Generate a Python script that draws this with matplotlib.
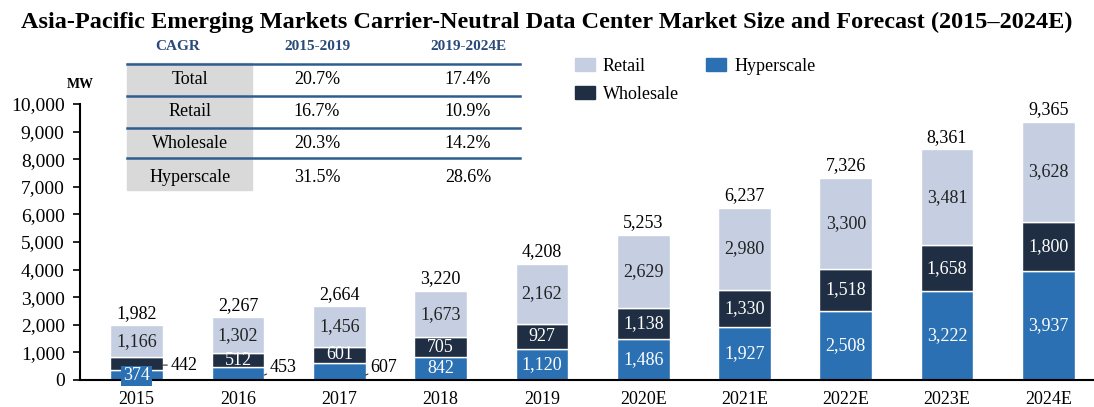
import numpy as np
import matplotlib.pyplot as plt
from matplotlib.lines import Line2D
from matplotlib.patches import Rectangle

plt.rcParams['font.family'] = ['Liberation Serif', 'DejaVu Serif']

years = ['2015', '2016', '2017', '2018', '2019', '2020E', '2021E', '2022E', '2023E', '2024E']
hyperscale = [374, 453, 607, 842, 1120, 1486, 1927, 2508, 3222, 3937]
wholesale = [442, 512, 601, 705, 927, 1138, 1330, 1518, 1658, 1800]
retail = [1166, 1302, 1456, 1673, 2162, 2629, 2980, 3300, 3481, 3628]
totals = [1982, 2267, 2664, 3220, 4208, 5253, 6237, 7326, 8361, 9365]

cagr_rows = ['Total', 'Retail', 'Wholesale', 'Hyperscale']
cagr_1519 = ['20.7%', '16.7%', '20.3%', '31.5%']
cagr_1924 = ['17.4%', '10.9%', '14.2%', '28.6%']

c_retail = '#c5cfe1'
c_whole = '#1f2e42'
c_hyper = '#2b70b2'
c_line = '#2f5d8f'

W, H = 1094, 407
fig = plt.figure(figsize=(W / 100, H / 100), dpi=100)
ax = fig.add_axes([80 / W, (H - 380) / H, 1014 / W, 276 / H])


def fx(px):
    return px / W


def fy(py):
    return (H - py) / H


x = np.arange(len(years))
bw = 0.52
ax.bar(x, hyperscale, bw, color=c_hyper, edgecolor='white', linewidth=1)
ax.bar(x, wholesale, bw, bottom=hyperscale, color=c_whole, edgecolor='white', linewidth=1)
bot2 = np.array(hyperscale) + np.array(wholesale)
ax.bar(x, retail, bw, bottom=bot2, color=c_retail, edgecolor='white', linewidth=1)

fs = 13
for i in range(len(years)):
    ax.text(x[i], totals[i] + 130, f'{totals[i]:,}', ha='center', va='bottom', fontsize=fs)
    ax.text(x[i], bot2[i] + retail[i] / 2, f'{retail[i]:,}', ha='center', va='center',
            fontsize=fs, color='#222222')
    if i == 0:
        ax.text(x[i], hyperscale[i] / 2 - 40, f'{hyperscale[i]:,}', ha='center', va='center',
                fontsize=fs, color='white',
                bbox=dict(boxstyle='square,pad=0.1', fc=c_hyper, ec='none'))
        ax.annotate(f'{wholesale[i]:,}', xy=(x[i] + bw / 2, 540),
                    xytext=(x[i] + bw / 2 + 0.07, 540),
                    ha='left', va='center', fontsize=fs,
                    arrowprops=dict(arrowstyle='-', color='#333333', lw=0.8,
                                    shrinkA=0, shrinkB=0))
    elif i in (1, 2):
        ax.text(x[i], hyperscale[i] + wholesale[i] / 2, f'{wholesale[i]:,}', ha='center',
                va='center', fontsize=fs, color='white')
        ax.annotate(f'{hyperscale[i]:,}', xy=(x[i] + bw / 2, 180),
                    xytext=(x[i] + bw / 2 + 0.05, 470),
                    ha='left', va='center', fontsize=fs,
                    arrowprops=dict(arrowstyle='-', color='#333333', lw=0.8,
                                    shrinkA=0, shrinkB=0))
    else:
        ax.text(x[i], hyperscale[i] + wholesale[i] / 2, f'{wholesale[i]:,}', ha='center',
                va='center', fontsize=fs, color='white')
        ax.text(x[i], hyperscale[i] / 2, f'{hyperscale[i]:,}', ha='center', va='center',
                fontsize=fs, color='white')

ax.set_xlim(-0.56, 9.45)
ax.set_ylim(0, 10000)
ax.set_yticks(np.arange(0, 10001, 1000))
ax.set_yticklabels([f'{v:,}' for v in range(0, 10001, 1000)], fontsize=14)
ax.set_xticks(x)
ax.set_xticklabels(years, fontsize=13)
ax.tick_params(axis='x', length=0, pad=8)
ax.tick_params(axis='y', length=5, width=1.2, direction='out', pad=6)
for s in ['top', 'right']:
    ax.spines[s].set_visible(False)
ax.spines['left'].set_linewidth(1.5)
ax.spines['bottom'].set_linewidth(1.5)

fig.text(fx(547), fy(22), 'Asia-Pacific Emerging Markets Carrier-Neutral Data Center Market Size and Forecast (2015\u20132024E)',
         ha='center', va='center', fontsize=17.5, fontweight='bold')
fig.text(fx(80), fy(85), 'MW', ha='center', va='center', fontsize=10, fontweight='bold')

# CAGR table
fig.add_artist(Rectangle((fx(127), fy(190)), fx(252) - fx(127), fy(63) - fy(190),
                         transform=fig.transFigure, color='#d9d9d9', zorder=1))
hdr_col = '#2a4a7a'
fig.text(fx(178), fy(47), 'CAGR', ha='center', va='center', fontsize=11, fontweight='bold', color=hdr_col)
fig.text(fx(317), fy(47), '2015-2019', ha='center', va='center', fontsize=11, fontweight='bold', color=hdr_col)
fig.text(fx(468), fy(47), '2019-2024E', ha='center', va='center', fontsize=11, fontweight='bold', color=hdr_col)
for yl in [64, 96, 128, 158]:
    fig.add_artist(Line2D([fx(127), fx(520)], [fy(yl), fy(yl)], color=c_line, lw=1.8,
                          transform=fig.transFigure, zorder=3))
row_y = [80, 112, 143, 177]
for r in range(len(cagr_rows)):
    fig.text(fx(190), fy(row_y[r]), cagr_rows[r], ha='center', va='center', fontsize=13, zorder=4)
    fig.text(fx(317), fy(row_y[r]), cagr_1519[r], ha='center', va='center', fontsize=13, zorder=4)
    fig.text(fx(468), fy(row_y[r]), cagr_1924[r], ha='center', va='center', fontsize=13, zorder=4)

# legend
handles = [Rectangle((0, 0), 1, 1, color=c_retail), Rectangle((0, 0), 1, 1, color=c_whole),
           Rectangle((0, 0), 1, 1, color=c_hyper)]
fig.legend(handles, ['Retail', 'Wholesale', 'Hyperscale'], ncol=2, loc='upper left',
           bbox_to_anchor=(fx(575), fy(58)), frameon=False, fontsize=13,
           handlelength=1.1, handleheight=0.75, columnspacing=1.5, labelspacing=0.6,
           handletextpad=0.45, borderpad=0, borderaxespad=0)

fig.savefig('out.png', dpi=100)
